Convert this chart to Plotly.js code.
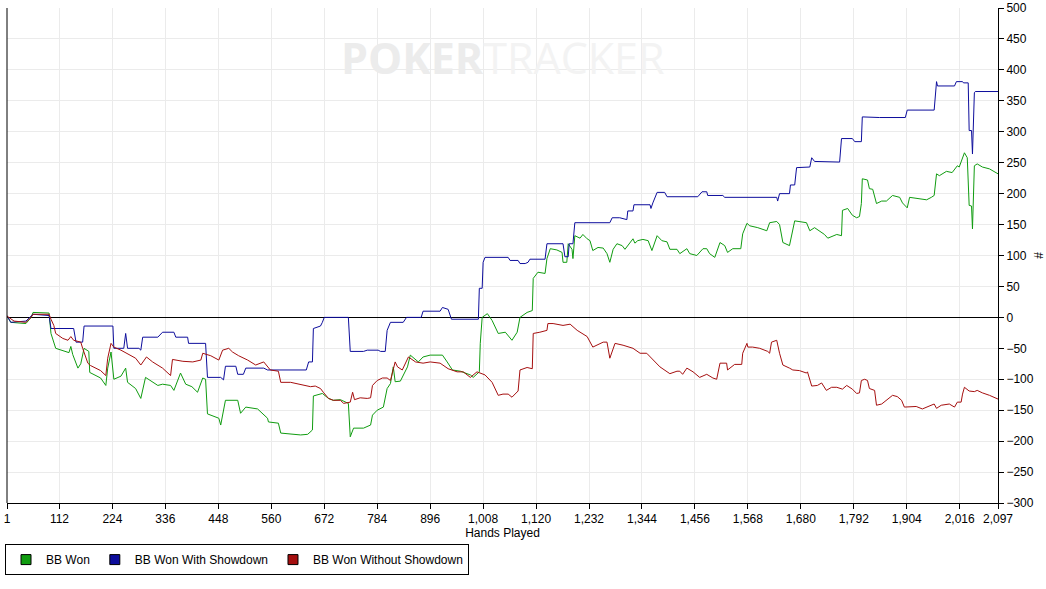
<!DOCTYPE html>
<html>
<head>
<meta charset="utf-8">
<script src="https://cdn.plot.ly/plotly-3.0.1.min.js"></script>
<style>html,body{margin:0;padding:0;background:#fff;}#chart{width:1046px;height:589px;}</style>
</head>
<body>
<div id="chart"></div>
<script>
// ---- Data ----
const seriesNames = ["BB Won", "BB Won With Showdown", "BB Won Without Showdown"];
const seriesColors = ["#109c10", "#0d0d9c", "#a50f0f"];

const handsWon = [1,9,41,52,56,90,94,104,132,136,140,151,157,164,174,176,199,210,214,221,227,242,252,256,273,284,294,305,320,330,347,354,368,379,392,404,415,421,425,449,453,463,489,495,506,531,552,554,575,580,607,622,637,647,649,668,681,691,706,723,727,734,755,770,774,784,797,805,812,818,822,833,848,854,871,881,896,922,932,943,960,981,987,1000,1002,1006,1017,1027,1040,1055,1069,1080,1086,1101,1112,1114,1124,1139,1143,1150,1164,1175,1177,1185,1188,1196,1198,1202,1213,1219,1228,1234,1240,1251,1262,1270,1276,1283,1291,1302,1308,1314,1323,1325,1329,1335,1346,1357,1365,1376,1386,1397,1403,1418,1424,1439,1445,1460,1473,1481,1487,1498,1509,1519,1525,1536,1553,1557,1566,1572,1589,1608,1614,1629,1635,1642,1656,1667,1692,1699,1709,1730,1737,1756,1766,1768,1779,1789,1798,1804,1808,1810,1821,1825,1832,1840,1851,1861,1874,1889,1895,1905,1910,1935,1946,1956,1962,1967,1973,1988,2000,2011,2015,2026,2032,2036,2041,2043,2047,2053,2064,2079,2097];
const bbWon = [2,-8,-10,0,8,7,-26,-50,-57,-47,-60,-82,-75,-50,-55,-89,-98,-110,-82,-56,-100,-95,-82,-105,-115,-131,-97,-103,-110,-108,-110,-118,-90,-108,-112,-121,-98,-100,-156,-163,-174,-134,-134,-155,-145,-148,-163,-169,-171,-187,-189,-190,-189,-182,-127,-123,-131,-134,-133,-139,-193,-179,-179,-174,-158,-150,-145,-115,-107,-80,-104,-103,-80,-61,-72,-64,-61,-61,-72,-85,-87,-93,-97,-88,-42,0,6,-5,-26,-24,-37,-24,0,8,11,63,73,71,95,111,109,105,89,89,119,110,95,132,128,134,127,124,108,113,112,103,89,110,119,116,110,116,124,127,120,124,126,124,108,132,124,122,110,110,103,111,103,100,111,111,103,97,121,116,105,111,111,135,152,148,145,140,153,155,150,121,116,156,153,140,145,134,128,134,132,173,176,165,161,163,184,224,222,208,207,184,188,188,197,194,185,177,194,192,190,194,197,232,229,236,234,245,243,266,258,181,180,143,245,248,243,240,232];

const handsSD = [1,9,41,56,90,94,142,147,161,164,225,227,248,252,256,280,284,288,320,330,354,358,383,385,421,425,453,459,463,485,489,501,506,544,552,634,639,647,649,664,668,672,723,727,755,763,786,791,801,805,812,839,846,877,881,917,922,928,934,941,998,1000,1006,1008,1012,1061,1065,1082,1086,1097,1103,1107,1139,1143,1177,1181,1188,1190,1198,1202,1276,1281,1297,1312,1314,1325,1327,1361,1363,1367,1376,1392,1397,1462,1471,1481,1483,1515,1519,1629,1631,1635,1656,1658,1667,1671,1699,1703,1709,1762,1766,1789,1794,1808,1810,1846,1901,1905,1962,1967,1969,2005,2009,2022,2024,2034,2036,2041,2043,2047,2049,2097];
const bbWonSD = [3,-8,-6,5,3,-18,-18,-40,-40,-14,-14,-50,-50,-26,-50,-50,-53,-32,-32,-24,-24,-32,-32,-42,-42,-97,-97,-101,-79,-79,-92,-92,-82,-82,-85,-85,-72,-72,-18,-14,-8,0,0,-55,-55,-53,-53,-55,-55,-21,-8,-8,0,0,10,10,16,14,13,-3,-3,47,47,89,97,97,92,92,87,87,89,94,94,119,119,98,98,119,119,153,153,161,161,158,172,172,182,182,176,185,202,202,195,195,203,203,197,197,194,194,188,200,200,214,214,242,243,258,252,251,289,289,284,284,324,323,323,335,335,381,374,374,381,381,379,379,302,302,264,363,365,365];

const handsNSD = [1,16,41,52,56,90,94,100,104,119,130,136,142,153,157,161,172,178,189,199,210,214,221,227,242,273,284,296,309,330,347,351,373,394,411,415,432,449,457,470,478,491,510,527,544,558,575,580,601,618,632,643,653,664,670,681,691,706,713,727,732,736,748,763,770,774,784,795,805,812,822,827,837,843,850,865,881,896,917,934,953,966,981,995,1012,1027,1040,1050,1061,1069,1082,1086,1101,1112,1114,1128,1143,1145,1156,1177,1192,1207,1228,1240,1262,1270,1276,1287,1304,1325,1340,1354,1367,1382,1403,1418,1424,1430,1439,1452,1466,1481,1494,1502,1509,1523,1525,1540,1555,1557,1566,1568,1578,1593,1610,1614,1618,1629,1635,1642,1656,1663,1677,1692,1694,1703,1715,1724,1734,1745,1756,1768,1777,1789,1798,1804,1808,1815,1821,1825,1836,1840,1851,1861,1874,1884,1893,1899,1914,1924,1937,1952,1962,1967,1977,1994,2005,2011,2019,2022,2026,2036,2047,2053,2064,2079,2097];
const bbWonNSD = [2,-6,-8,0,5,5,-3,-13,-26,-34,-37,-31,-37,-40,-40,-50,-74,-78,-82,-86,-94,-66,-42,-48,-53,-66,-77,-64,-72,-82,-94,-68,-71,-72,-69,-58,-62,-69,-53,-50,-56,-62,-69,-77,-72,-85,-87,-105,-105,-108,-110,-112,-111,-115,-121,-131,-134,-134,-139,-137,-121,-133,-130,-131,-130,-110,-102,-98,-98,-102,-72,-80,-85,-74,-64,-72,-74,-72,-74,-83,-88,-88,-97,-88,-93,-105,-126,-124,-124,-129,-119,-85,-81,-83,-26,-24,-21,-10,-10,-13,-11,-21,-31,-48,-40,-40,-66,-42,-45,-50,-58,-58,-69,-80,-91,-87,-87,-92,-82,-88,-97,-92,-98,-100,-74,-74,-85,-76,-76,-58,-42,-48,-48,-50,-55,-58,-40,-37,-58,-77,-82,-85,-86,-90,-88,-111,-110,-106,-118,-113,-113,-116,-110,-116,-123,-122,-102,-100,-102,-115,-118,-142,-140,-134,-126,-128,-134,-145,-145,-144,-148,-143,-140,-147,-142,-140,-145,-137,-137,-124,-113,-119,-120,-118,-122,-126,-132];

const xTickVals = [1,112,224,336,448,560,672,784,896,1008,1120,1232,1344,1456,1568,1680,1792,1904,2016,2097];
const xTickLabels = ["1","112","224","336","448","560","672","784","896","1,008","1,120","1,232","1,344","1,456","1,568","1,680","1,792","1,904","2,016","2,097"];

// ---- Build chart ----
const FONT = "Liberation Sans, Arial, sans-serif";
const xs = [handsWon, handsSD, handsNSD];
const ys = [bbWon, bbWonSD, bbWonNSD];

const traces = [];
for (let i = 0; i < 3; i++) {
  traces.push({
    x: xs[i], y: ys[i], type: "scatter", mode: "lines",
    line: {color: seriesColors[i], width: 1},
    name: seriesNames[i], showlegend: false, hoverinfo: "skip"
  });
}
for (let i = 0; i < 3; i++) {
  traces.push({
    x: [null], y: [null], type: "scatter", mode: "markers",
    marker: {symbol: "square", size: 10, color: seriesColors[i], line: {color: "#000", width: 1}},
    name: seriesNames[i], showlegend: true
  });
}

const layout = {
  width: 1046, height: 589,
  margin: {l: 6, r: 48, t: 8, b: 86, pad: 0},
  paper_bgcolor: "#fff", plot_bgcolor: "#fff",
  font: {family: FONT, size: 12, color: "#000"},
  xaxis: {
    range: [1, 2097], tickmode: "array", tickvals: xTickVals, ticktext: xTickLabels,
    showgrid: true, gridcolor: "#ebebeb", gridwidth: 1,
    showline: true, linecolor: "#000", linewidth: 1,
    ticks: "outside", ticklen: 5, tickcolor: "#000", zeroline: false,
    tickfont: {family: FONT, size: 12, color: "#000"},
    title: {text: "Hands Played", font: {family: FONT, size: 12, color: "#000"}, standoff: 3},
    automargin: false, fixedrange: true
  },
  yaxis: {
    side: "right", range: [-300, 500], tick0: 0, dtick: 50,
    showgrid: true, gridcolor: "#ebebeb", gridwidth: 1,
    showline: true, linecolor: "#000", linewidth: 1,
    ticks: "outside", ticklen: 5, tickcolor: "#000",
    zeroline: true, zerolinecolor: "#000", zerolinewidth: 1,
    tickfont: {family: FONT, size: 12, color: "#000"},
    title: {text: "#", font: {family: FONT, size: 12, color: "#000"}, standoff: 4},
    automargin: false, fixedrange: true
  },
  shapes: [{type: "line", xref: "paper", yref: "paper", x0: 0, x1: 0, y0: 0, y1: 1, line: {color: "#000", width: 1}}],
  annotations: [{
    xref: "paper", yref: "paper", x: 0.501, y: 0.899, xanchor: "center", yanchor: "middle",
    showarrow: false,
    text: "<span style='color:#ececec;font-weight:bold'>POKER</span><span style='color:#f3f3f3'>TRACKER</span>",
    font: {family: "Open Sans, sans-serif", size: 43}
  }],
  showlegend: true,
  legend: {
    orientation: "h", x: -0.001, y: -0.083, xanchor: "left", yanchor: "top",
    bordercolor: "#000", borderwidth: 1, bgcolor: "#fff",
    font: {family: FONT, size: 12, color: "#000"}, itemclick: false, itemdoubleclick: false
  },
  hovermode: false
};

Plotly.newPlot("chart", traces, layout, {displayModeBar: false, staticPlot: true});
</script>
</body>
</html>
